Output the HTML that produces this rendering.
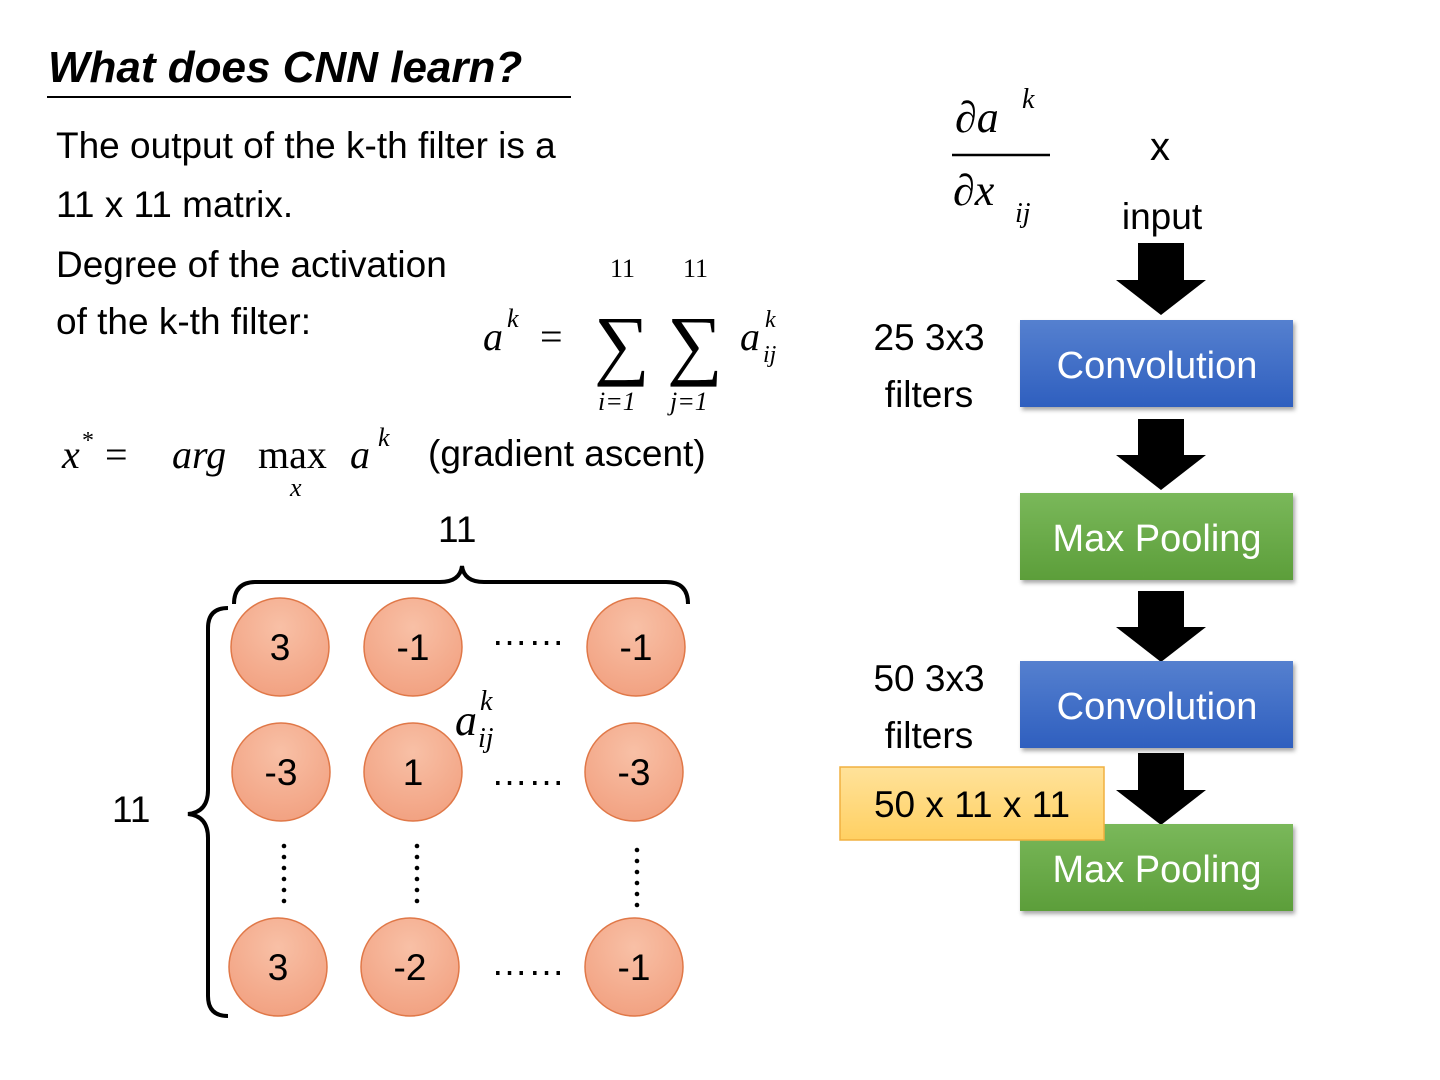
<!DOCTYPE html>
<html><head><meta charset="utf-8"><style>
body{margin:0;background:#fff;}
svg{display:block}
text{font-family:"Liberation Sans",sans-serif;}
.m{font-family:"Liberation Serif",serif;font-style:italic;}
.r{font-family:"Liberation Serif",serif;}
</style></head><body>
<svg width="1440" height="1080" viewBox="0 0 1440 1080" xmlns="http://www.w3.org/2000/svg">
<defs>
<linearGradient id="blue" x1="0" y1="0" x2="0" y2="1"><stop offset="0" stop-color="#5580cf"/><stop offset="1" stop-color="#2f5fbf"/></linearGradient>
<linearGradient id="green" x1="0" y1="0" x2="0" y2="1"><stop offset="0" stop-color="#7ab85a"/><stop offset="1" stop-color="#5c9e3a"/></linearGradient>
<linearGradient id="yel" x1="0" y1="0" x2="0" y2="1"><stop offset="0" stop-color="#ffe29a"/><stop offset="1" stop-color="#ffd062"/></linearGradient>
<radialGradient id="org" cx="0.5" cy="0.3" r="0.7"><stop offset="0" stop-color="#f8c0a6"/><stop offset="1" stop-color="#f2a282"/></radialGradient>
</defs>
<!-- title -->
<text x="48" y="82" font-size="44" font-weight="bold" font-style="italic">What does CNN learn?</text>
<line x1="47" y1="97" x2="571" y2="97" stroke="#000" stroke-width="2"/>
<text x="56" y="158" font-size="37">The output of the k-th filter is a</text>
<text x="56" y="217" font-size="37">11 x 11 matrix.</text>
<text x="56" y="277" font-size="37">Degree of the activation</text>
<text x="56" y="334" font-size="37">of the k-th filter:</text>
<!-- sum formula -->
<text x="483" y="350" font-size="40" class="m">a</text>
<text x="507" y="327" font-size="26" class="m">k</text>
<text x="540" y="350" font-size="40" class="r">=</text>
<text x="610" y="277" font-size="26" class="r">11</text>
<text x="683" y="277" font-size="26" class="r">11</text>
<text x="594" y="370" font-size="78" class="r">∑</text>
<text x="667" y="370" font-size="78" class="r">∑</text>
<text x="598" y="410" font-size="26" class="m">i=1</text>
<text x="670" y="410" font-size="26" class="m">j=1</text>
<text x="740" y="350" font-size="40" class="m">a</text>
<text x="765" y="327" font-size="24" class="m">k</text>
<text x="763" y="362" font-size="24" class="m">ij</text>
<!-- argmax -->
<text x="62" y="468" font-size="40" class="m">x</text>
<text x="82" y="448" font-size="24" class="r">*</text>
<text x="105" y="468" font-size="40" class="r">=</text>
<text x="172" y="468" font-size="40" class="m">arg</text>
<text x="258" y="468" font-size="40" class="r">max</text>
<text x="290" y="496" font-size="26" class="m">x</text>
<text x="350" y="468" font-size="40" class="m">a</text>
<text x="378" y="446" font-size="26" class="m">k</text>
<text x="428" y="466" font-size="37">(gradient ascent)</text>
<!-- braces -->
<text x="438" y="542" font-size="37">11</text>
<path d="M234,604 Q234,582 256,582 L440,582 Q460,582 462,566 Q464,582 484,582 L666,582 Q688,582 688,604" fill="none" stroke="#000" stroke-width="4"/>
<path d="M228,608 Q208,608 208,628 L208,790 Q208,812 188,814 Q208,816 208,838 L208,996 Q208,1016 228,1016" fill="none" stroke="#000" stroke-width="4"/>
<text x="112" y="822" font-size="37">11</text>
<!-- circles -->
<g stroke="#e07848" stroke-width="1.5" fill="url(#org)">
<circle cx="280" cy="647" r="49"/><circle cx="413" cy="647" r="49"/><circle cx="636" cy="647" r="49"/>
<circle cx="281" cy="772" r="49"/><circle cx="413" cy="772" r="49"/><circle cx="634" cy="772" r="49"/>
<circle cx="278" cy="967" r="49"/><circle cx="410" cy="967" r="49"/><circle cx="634" cy="967" r="49"/>
</g>
<g font-size="37" text-anchor="middle">
<text x="280" y="660">3</text><text x="413" y="660">-1</text><text x="636" y="660">-1</text>
<text x="281" y="785">-3</text><text x="413" y="785">1</text><text x="634" y="785">-3</text>
<text x="278" y="980">3</text><text x="410" y="980">-2</text><text x="634" y="980">-1</text>
<text x="528" y="645">……</text><text x="528" y="785">……</text><text x="528" y="975">……</text>
</g>
<g fill="#000">
<circle cx="284" cy="846" r="2.3"/><circle cx="284" cy="857" r="2.3"/><circle cx="284" cy="868" r="2.3"/><circle cx="284" cy="879" r="2.3"/><circle cx="284" cy="890" r="2.3"/><circle cx="284" cy="901" r="2.3"/>
<circle cx="417" cy="846" r="2.3"/><circle cx="417" cy="857" r="2.3"/><circle cx="417" cy="868" r="2.3"/><circle cx="417" cy="879" r="2.3"/><circle cx="417" cy="890" r="2.3"/><circle cx="417" cy="901" r="2.3"/>
<circle cx="637" cy="850" r="2.3"/><circle cx="637" cy="861" r="2.3"/><circle cx="637" cy="872" r="2.3"/><circle cx="637" cy="883" r="2.3"/><circle cx="637" cy="894" r="2.3"/><circle cx="637" cy="905" r="2.3"/>
</g>
<text x="455" y="735" font-size="44" class="m">a</text>
<text x="480" y="710" font-size="28" class="m">k</text>
<text x="478" y="747" font-size="28" class="m">ij</text>
<!-- derivative -->
<text x="955" y="132" font-size="44" class="m">∂a</text>
<text x="1022" y="108" font-size="28" class="m">k</text>
<line x1="952" y1="155" x2="1050" y2="155" stroke="#000" stroke-width="2.5"/>
<text x="953" y="205" font-size="44" class="m">∂x</text>
<text x="1015" y="222" font-size="28" class="m">ij</text>
<text x="1160" y="160" font-size="40" text-anchor="middle">x</text>
<text x="1162" y="229" font-size="37" text-anchor="middle">input</text>
<!-- arrows -->
<g fill="#000">
<path d="M1138,243 H1184 V280 H1206 L1161,315 L1116,280 H1138 Z"/>
<path d="M1138,419 H1184 V455 H1206 L1161,490 L1116,455 H1138 Z"/>
<path d="M1138,591 H1184 V627 H1206 L1161,662 L1116,627 H1138 Z"/>
<path d="M1138,753 H1184 V790 H1206 L1161,825 L1116,790 H1138 Z"/>
</g>
<!-- boxes -->
<g style="filter:drop-shadow(2px 3px 2px rgba(0,0,0,0.35))">
<rect x="1020" y="320" width="273" height="87" fill="url(#blue)"/>
<rect x="1020" y="493" width="273" height="87" fill="url(#green)"/>
<rect x="1020" y="661" width="273" height="87" fill="url(#blue)"/>
<rect x="1020" y="824" width="273" height="87" fill="url(#green)"/>
</g>
<g font-size="38" fill="#fff" text-anchor="middle">
<text x="1157" y="378">Convolution</text>
<text x="1157" y="551">Max Pooling</text>
<text x="1157" y="719">Convolution</text>
<text x="1157" y="882">Max Pooling</text>
</g>
<text x="929" y="350" font-size="37" text-anchor="middle">25 3x3</text>
<text x="929" y="407" font-size="37" text-anchor="middle">filters</text>
<text x="929" y="691" font-size="37" text-anchor="middle">50 3x3</text>
<text x="929" y="748" font-size="37" text-anchor="middle">filters</text>
<rect x="840" y="767" width="264" height="73" fill="url(#yel)" stroke="#f0b040" stroke-width="1.5"/>
<text x="972" y="817" font-size="37" text-anchor="middle">50 x 11 x 11</text>
</svg>
</body></html>
